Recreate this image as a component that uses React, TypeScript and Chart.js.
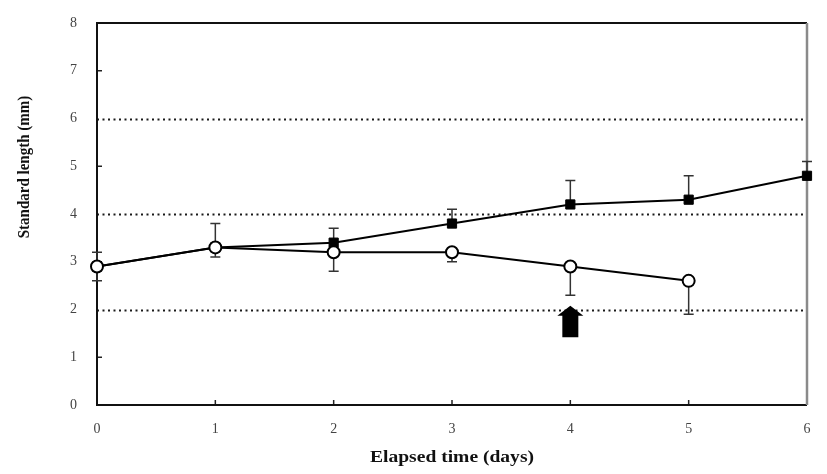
import React, { useEffect, useRef } from 'react';
import { Chart, registerables } from 'chart.js';

Chart.register(...registerables);

// ---- data ----
const days = [0, 1, 2, 3, 4, 5, 6];
const closedMean = [2.9, 3.3, 3.4, 3.8, 4.2, 4.3, 4.8];
const closedUpper = [3.2, 3.8, 3.7, 4.1, 4.7, 4.8, 5.1];
const openDays = [0, 1, 2, 3, 4, 5];
const openMean = [2.9, 3.3, 3.2, 3.2, 2.9, 2.6];
const openLower = [2.6, 3.1, 2.8, 3.0, 2.3, 1.9];
const dottedGridValues = [2, 4, 6];
const yInnerTicks = [1, 3, 5, 7];
const xInnerTicks = [1, 2, 3, 4, 5];
const arrowDay = 4;
const arrowTip = 2.08;
const arrowHeadBase = 1.87;
const arrowTail = 1.42;
const xTitle = 'Elapsed time (days)';
const yTitle = 'Standard length (mm)';

const FONT = '"Liberation Serif", "Times New Roman", serif';

const decor = {
  id: 'decor',
  beforeDatasetsDraw(chart: any) {
    const { ctx, chartArea, scales } = chart;
    const { left, right, top, bottom } = chartArea;
    const x = scales.x;
    const y = scales.y;
    ctx.save();
    // dotted grid lines
    ctx.setLineDash([2, 3.5]);
    ctx.lineWidth = 1.8;
    ctx.strokeStyle = '#1a1a1a';
    for (const v of dottedGridValues) {
      const py = Math.round(y.getPixelForValue(v)) + 0.5;
      ctx.beginPath();
      ctx.moveTo(left, py);
      ctx.lineTo(right, py);
      ctx.stroke();
    }
    ctx.setLineDash([]);
    // inward ticks
    ctx.lineWidth = 1.5;
    ctx.strokeStyle = '#222';
    for (const v of yInnerTicks) {
      const py = y.getPixelForValue(v);
      ctx.beginPath();
      ctx.moveTo(left, py);
      ctx.lineTo(left + 5, py);
      ctx.stroke();
    }
    for (const d of xInnerTicks) {
      const px = x.getPixelForValue(d);
      ctx.beginPath();
      ctx.moveTo(px, bottom);
      ctx.lineTo(px, bottom - 5);
      ctx.stroke();
    }
    // frame
    ctx.lineWidth = 2;
    ctx.strokeStyle = '#111';
    ctx.beginPath();
    ctx.moveTo(right, top);
    ctx.lineTo(left, top);
    ctx.lineTo(left, bottom);
    ctx.lineTo(right, bottom);
    ctx.stroke();
    ctx.lineWidth = 2.5;
    ctx.strokeStyle = '#8a8a8a';
    ctx.beginPath();
    ctx.moveTo(right, top);
    ctx.lineTo(right, bottom);
    ctx.stroke();
    // error bars
    ctx.lineWidth = 1.5;
    ctx.strokeStyle = '#333';
    const bar = (d: number, m: number, e: number) => {
      const px = x.getPixelForValue(d);
      const p1 = y.getPixelForValue(m);
      const p2 = y.getPixelForValue(e);
      ctx.beginPath();
      ctx.moveTo(px, p1);
      ctx.lineTo(px, p2);
      ctx.moveTo(px - 5, p2);
      ctx.lineTo(px + 5, p2);
      ctx.stroke();
    };
    days.forEach((d, i) => bar(d, closedMean[i], closedUpper[i]));
    openDays.forEach((d, i) => bar(d, openMean[i], openLower[i]));
    ctx.restore();
  },
  afterDatasetsDraw(chart: any) {
    const { ctx, scales } = chart;
    const x = scales.x;
    const y = scales.y;
    const px = x.getPixelForValue(arrowDay);
    const tip = y.getPixelForValue(arrowTip);
    const hb = y.getPixelForValue(arrowHeadBase);
    const tail = y.getPixelForValue(arrowTail);
    ctx.save();
    ctx.fillStyle = '#000';
    ctx.beginPath();
    ctx.moveTo(px, tip);
    ctx.lineTo(px + 13, hb);
    ctx.lineTo(px + 8, hb);
    ctx.lineTo(px + 8, tail);
    ctx.lineTo(px - 8, tail);
    ctx.lineTo(px - 8, hb);
    ctx.lineTo(px - 13, hb);
    ctx.closePath();
    ctx.fill();
    ctx.restore();
  },
  afterDraw(chart: any) {
    const { ctx, chartArea } = chart;
    ctx.save();
    ctx.fillStyle = '#111';
    ctx.textAlign = 'center';
    ctx.textBaseline = 'middle';
    // x title (slightly widened like the reference)
    ctx.save();
    ctx.translate((chartArea.left + chartArea.right) / 2, 458 - 8);
    ctx.scale(1.15, 1);
    ctx.font = `bold 17px ${FONT}`;
    ctx.fillText(xTitle, 0, 0);
    ctx.restore();
    // y title
    ctx.save();
    ctx.translate(25 - 8, 167 - 8);
    ctx.scale(1.15, 1);
    ctx.rotate(-Math.PI / 2);
    ctx.font = `bold 15px ${FONT}`;
    ctx.fillText(yTitle, 0, 0);
    ctx.restore();
    ctx.restore();
  },
};

export default function App() {
  const ref = useRef<HTMLCanvasElement | null>(null);
  useEffect(() => {
    if (!ref.current) return;
    const chart = new Chart(ref.current, {
      type: 'line',
      data: {
        datasets: [
          {
            label: 'open',
            data: openDays.map((d, i) => ({ x: d, y: openMean[i] })),
            borderColor: '#000',
            borderWidth: 2,
            pointStyle: 'circle',
            pointRadius: 6,
            pointBorderWidth: 2,
            pointBackgroundColor: '#fff',
            pointBorderColor: '#000',
            clip: false as any,
            order: 0,
          },
          {
            label: 'closed',
            data: days.map((d, i) => ({ x: d, y: closedMean[i] })),
            borderColor: '#000',
            borderWidth: 2,
            pointStyle: 'rect',
            pointRadius: 6.5,
            pointBorderWidth: 1,
            pointBackgroundColor: '#000',
            pointBorderColor: '#000',
            clip: false as any,
            order: 1,
          },
        ],
      },
      options: {
        animation: false,
        responsive: false,
        maintainAspectRatio: false,
        layout: { padding: { top: 15, right: 12, left: 0, bottom: 0 } },
        plugins: { legend: { display: false }, tooltip: { enabled: false } },
        scales: {
          x: {
            type: 'linear',
            min: 0,
            max: 6,
            grid: { display: false, drawTicks: false },
            border: { display: false },
            ticks: {
              stepSize: 1,
              padding: 16,
              color: '#444',
              font: { family: FONT, size: 14 },
            },
            afterFit: (s: any) => {
              s.height = 61;
              s.paddingLeft = 0;
              s.paddingRight = 0;
            },
          },
          y: {
            type: 'linear',
            min: 0,
            max: 8,
            grid: { display: false, drawTicks: false },
            border: { display: false },
            ticks: {
              stepSize: 1,
              padding: 20,
              color: '#444',
              font: { family: FONT, size: 14 },
            },
            afterFit: (s: any) => {
              s.width = 89;
              s.paddingTop = 0;
              s.paddingBottom = 0;
            },
          },
        },
      },
      plugins: [decor],
    });
    return () => chart.destroy();
  }, []);
  return (
    <div style={{ width: 811, height: 458 }}>
      <canvas ref={ref} width={811} height={458} style={{ width: 811, height: 458 }} />
    </div>
  );
}
